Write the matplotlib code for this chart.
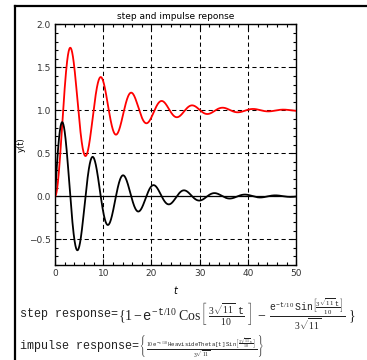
import numpy as np
import matplotlib
matplotlib.use('Agg')
import matplotlib.pyplot as plt
from matplotlib.lines import Line2D
from matplotlib.ticker import MultipleLocator

# parametros del sistema, tomados de las respuestas escritas abajo
sigma = 1 / 10                 # e^{-t/10}
omega = 3 * np.sqrt(11) / 10   # Sin[3 sqrt(11) t / 10]
t_max = 50

x_ticks = [0, 10, 20, 30, 40, 50]
y_ticks = [-0.5, 0.0, 0.5, 1.0, 1.5, 2.0]
y_labels = ['\u22120.5', '0.0', '0.5', '1.0', '1.5', '2.0']

t = np.linspace(0, t_max, 2000)
step = 1 - np.exp(-sigma * t) * np.cos(omega * t) - np.exp(-sigma * t) * np.sin(omega * t) / (3 * np.sqrt(11))
impulse = 10 * np.exp(-sigma * t) * np.heaviside(t, 1) * np.sin(omega * t) / (3 * np.sqrt(11))

plt.rcParams['mathtext.fontset'] = 'custom'
plt.rcParams['mathtext.rm'] = 'Liberation Serif'
plt.rcParams['mathtext.it'] = 'Liberation Mono'
plt.rcParams['mathtext.tt'] = 'Liberation Mono'

fig = plt.figure(figsize=(3.67, 3.6), dpi=100)
ax = fig.add_axes([0.150, 0.264, 0.657, 0.668])

# rejilla discontinua y eje en cero
ax.grid(True, which='major', color='black', linestyle=(0, (4, 3)), linewidth=0.75)
ax.axhline(0, color='black', linewidth=0.9, zorder=2)

ax.plot(t, step, color='red', linewidth=1.3, zorder=3)
ax.plot(t, impulse, color='black', linewidth=1.3, zorder=4)

ax.set_xlim(0, t_max)
ax.set_ylim(-0.8, 2.0)
ax.set_xticks(x_ticks)
ax.set_yticks(y_ticks)
ax.set_yticklabels(y_labels)
ax.xaxis.set_minor_locator(MultipleLocator(2))
ax.yaxis.set_minor_locator(MultipleLocator(0.1))
ax.tick_params(which='both', direction='in', top=True, right=True, labelsize=6.5, labelcolor='#333333', width=0.8)
ax.tick_params(which='major', length=4, pad=3)
ax.tick_params(which='minor', length=2)
for s in ax.spines.values():
    s.set_linewidth(1.0)

ax.set_title('step and impulse reponse', fontsize=6.5, pad=4)
ax.set_xlabel('t', fontsize=7, style='italic', labelpad=6)
ax.set_ylabel('y(t)', fontsize=6, labelpad=2)

# marco exterior
fig.add_artist(Line2D([0.041, 1.0], [0.983, 0.983], color='black', linewidth=1.6, transform=fig.transFigure))
fig.add_artist(Line2D([0.041, 0.041], [0.0, 0.983], color='black', linewidth=1.6, transform=fig.transFigure))

# expresiones de las respuestas: etiqueta en Courier y formula a continuacion
step_txt = (r'$\{1 - e^{-t/10}\ \mathrm{Cos}\left[\ \frac{3\sqrt{11}\ \ t}{10}\ \right]'
            r'\ -\ \frac{e^{-t/10}\ \mathtt{Sin}\left[\frac{3\sqrt{11}\ t}{10}\right]}{3\sqrt{11}}\ \}$')
imp_txt = (r'$\left\{\ \frac{10\ e^{-t/10}\ \mathtt{HeavisideTheta[t]}\ \mathtt{Sin}'
           r'\left[\frac{3\sqrt{11}\ t}{10}\right]}{3\sqrt{11}}\ \right\}$')

lbl1 = fig.text(0.055, 0.127, 'step response=', fontsize=8.5, family='Liberation Mono', va='center', color='#222222')
lbl2 = fig.text(0.055, 0.040, 'impulse response=', fontsize=8.5, family='Liberation Mono', va='center', color='#222222')
ax.annotate(step_txt, xy=(1, 0.5), xycoords=lbl1, va='center', ha='left', fontsize=10,
            color='#222222', annotation_clip=False)
ax.annotate(imp_txt, xy=(1, 0.5), xycoords=lbl2, va='center', ha='left', fontsize=5.8,
            color='#222222', annotation_clip=False)

fig.savefig('out.png', dpi=100)
